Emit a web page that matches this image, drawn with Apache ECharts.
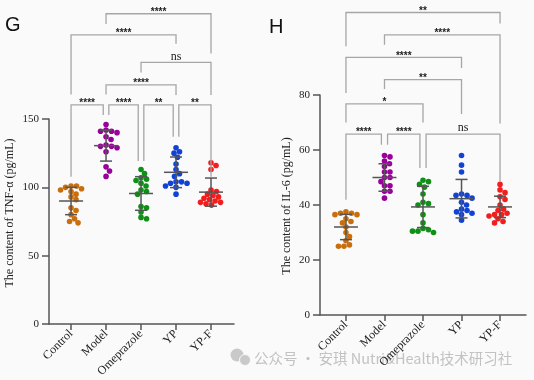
<!DOCTYPE html>
<html>
<head>
<meta charset="utf-8">
<script src="https://cdn.jsdelivr.net/npm/echarts@6/dist/echarts.min.js"></script>
<style>
html,body{margin:0;padding:0;background:#fafafa;}
#c{width:534px;height:380px;}
</style>
</head>
<body>
<div id="c"></div>
<script>
const categories = ['Control', 'Model', 'Omeprazole', 'YP', 'YP-F'];
const groupColors = ['#C96E0C', '#990099', '#0E8F16', '#1142D6', '#F41C1C'];

// Panel G: TNF-α (pg/mL)
const tnfControl = [101, 100, 101, 99, 98, 97, 95, 93, 91, 85, 83, 80, 77, 75, 74];
const tnfModel = [146, 141, 142, 141, 140, 137, 135, 130, 131, 129, 130, 126, 115, 112, 108];
const tnfOmeprazole = [113, 110, 107, 106, 105, 103, 101, 98, 97, 95, 86, 85, 82, 78, 77];
const tnfYP = [129, 126, 125, 122, 117, 113, 110, 108, 104, 104, 103, 103, 101, 100, 95];
const tnfYPF = [118, 116, 113, 98, 97, 95, 94, 93, 92, 91, 90, 89, 89, 88, 87];
const tnfMean = [90, 130.5, 95.5, 111, 96.5];
const tnfSD = [10, 11.3, 12.3, 11.2, 10.3];
const tnfTicks = [0, 50, 100, 150];

// Panel H: IL-6 (pg/mL)
const il6Control = [37.5, 37, 37, 36.5, 36.5, 35, 34, 33.5, 32, 30, 28.5, 27, 25.5, 25, 25];
const il6Model = [58, 57.5, 56, 55, 54, 52, 52, 50, 50, 48.5, 47, 47, 45, 45, 42.5];
const il6Omeprazole = [49, 48.5, 47.5, 46.5, 44, 41, 40.5, 40, 36.5, 33.5, 31.5, 31, 30.5, 30.5, 30];
const il6YP = [58, 54.5, 52, 44, 43.5, 43.5, 42.5, 41, 40, 38.5, 38, 37.5, 37, 36.5, 34.5];
const il6YPF = [47.5, 45.5, 44.5, 43, 42, 40, 38.5, 38, 37, 36.5, 36.5, 36, 35, 34, 33.5];
const il6Mean = [32, 50, 39.3, 42.3, 39.3];
const il6SD = [4.6, 5, 7.5, 7, 3.9];
const il6Ticks = [0, 20, 40, 60, 80];

// significance brackets: [from, to, barLevel, leftLegEnd, rightLegEnd]
const tnfBrackets = [
  [1, 4, 227, 219.6, 198],
  [0, 3, 211.6, 168, 205],
  [2, 4, 191.4, 184, 167.6],
  [1, 3, 175, 168, 167.6],
  [0, 0.92, 160.3, 107.8, 153],
  [1.08, 1.92, 160.3, 153, 119.3],
  [2.08, 2.92, 160.3, 119.3, 137],
  [3.08, 4, 160.3, 137, 107.8]
];
const tnfBracketLabels = ['****', '****', 'ns', '****', '****', '****', '**', '**'];
const il6Brackets = [
  [0, 4, 110, 97.7, 106],
  [1, 4, 101.9, 98.3, 69.6],
  [0, 3, 93.7, 80.7, 89.8],
  [1, 3, 85.6, 82.2, 73.1],
  [0, 2, 76.8, 70, 70],
  [0, 0.92, 65.8, 41.9, 61.9],
  [1.08, 1.92, 65.8, 61.9, 53.5],
  [2.08, 4, 65.8, 53.5, 48.6]
];
const il6BracketLabels = ['**', '****', '****', '**', '*', '****', '****', 'ns'];

// ---------- layout ----------
const G = {left: 49, top: 119, width: 185, height: 205, xmin: -0.63, xmax: 4.657, ymax: 150, interval: 50};
const H = {left: 320, top: 95, width: 206, height: 220, xmin: -0.674, xmax: 4.674, ymax: 80, interval: 20};
const DOT = 5.6;
const GAP = 5.3;

// deterministic beeswarm layout (pixel collision avoidance)
function swarm(values, group, P) {
  const pxX = P.width / (P.xmax - P.xmin);
  const pxY = P.height / P.ymax;
  const placed = [];
  const out = [];
  const sorted = values.slice().sort((a, b) => b - a);
  for (const v of sorted) {
    const py = v * pxY;
    let off = 0;
    for (let k = 0; k < 400; k++) {
      const cand = (k % 2 === 1 ? 1 : -1) * Math.ceil(k / 2) * 0.5;
      if (placed.every(p => Math.hypot(p[0] - cand, p[1] - py) >= GAP)) { off = cand; break; }
    }
    placed.push([off, py]);
    out.push([group + off / pxX, v]);
  }
  return out;
}

const serif = '"Liberation Serif", "Times New Roman", serif';

function axes(P, gi, ticks) {
  const x = {
    type: 'value', gridIndex: gi, min: P.xmin, max: P.xmax,
    axisLine: {show: true, onZero: false, lineStyle: {color: '#555', width: 1.5}},
    axisTick: {show: true, length: 6, lineStyle: {color: '#555', width: 1.5}, customValues: [0, 1, 2, 3, 4]},
    axisLabel: {
      customValues: [0, 1, 2, 3, 4], rotate: 45, margin: 8,
      formatter: v => categories[Math.round(v)],
      fontFamily: serif, fontSize: 12, color: '#222'
    },
    splitLine: {show: false}
  };
  const y = {
    type: 'value', gridIndex: gi, min: 0, max: P.ymax, interval: P.interval,
    axisLine: {show: true, onZero: false, lineStyle: {color: '#555', width: 1.5}},
    axisTick: {show: true, length: 7, lineStyle: {color: '#555', width: 1.5}},
    axisLabel: {margin: 10, fontFamily: serif, fontSize: 11, color: '#222',
      customValues: ticks},
    splitLine: {show: false}
  };
  return [x, y];
}

function scatterSeries(groups, P, gi) {
  return groups.map((vals, i) => ({
    type: 'scatter', xAxisIndex: gi, yAxisIndex: gi,
    data: swarm(vals, i, P),
    symbolSize: DOT, itemStyle: {color: groupColors[i], opacity: 1},
    z: 3, silent: true
  }));
}

function errorSeries(means, sds, gi) {
  return {
    type: 'custom', xAxisIndex: gi, yAxisIndex: gi, z: 5, silent: true, clip: false,
    data: means.map((m, i) => [i, m, sds[i]]),
    renderItem: (params, api) => {
      const x = api.value(0), m = api.value(1), s = api.value(2);
      const c = api.coord([x, m]);
      const t = api.coord([x, m + s]);
      const b = api.coord([x, m - s]);
      const st = {stroke: '#555', lineWidth: 1.5};
      return {type: 'group', children: [
        {type: 'line', shape: {x1: c[0] - 12, y1: c[1], x2: c[0] + 12, y2: c[1]}, style: st},
        {type: 'line', shape: {x1: t[0], y1: t[1], x2: b[0], y2: b[1]}, style: st},
        {type: 'line', shape: {x1: t[0] - 6, y1: t[1], x2: t[0] + 6, y2: t[1]}, style: st},
        {type: 'line', shape: {x1: b[0] - 6, y1: b[1], x2: b[0] + 6, y2: b[1]}, style: st}
      ]};
    }
  };
}

function bracketSeries(brackets, labels, gi) {
  return {
    type: 'custom', xAxisIndex: gi, yAxisIndex: gi, z: 4, silent: true, clip: false,
    data: brackets,
    renderItem: (params, api) => {
      const x1 = api.value(0), x2 = api.value(1), yt = api.value(2), yl = api.value(3), yr = api.value(4);
      const a = api.coord([x1, yl]), b = api.coord([x1, yt]), c = api.coord([x2, yt]), d = api.coord([x2, yr]);
      const lab = labels[params.dataIndex];
      const isNs = lab === 'ns';
      return {type: 'group', children: [
        {type: 'polyline', shape: {points: [a, b, c, d]}, style: {stroke: '#a6a6a6', lineWidth: 1.3, fill: null}},
        {type: 'text', x: (b[0] + c[0]) / 2, y: isNs ? b[1] - 6 : b[1] - 1.5,
          style: {text: lab, fill: '#222', align: 'center', verticalAlign: 'middle',
            font: isNs ? '12px ' + serif : 'bold 10px "Liberation Sans", Arial, sans-serif'}}
      ]};
    }
  };
}

const [gx, gy] = axes(G, 0, tnfTicks);
const [hx, hy] = axes(H, 1, il6Ticks);

const option = {
  backgroundColor: '#fafafa',
  animation: false,
  grid: [
    {left: G.left, top: G.top, width: G.width, height: G.height},
    {left: H.left, top: H.top, width: H.width, height: H.height}
  ],
  xAxis: [gx, hx],
  yAxis: [gy, hy],
  graphic: [
    {type: 'group', z: -10, zlevel: 0, children: [
      {type: 'circle', shape: {cx: 237, cy: 355, r: 6.5}, style: {fill: '#c9c9c9'}},
      {type: 'circle', shape: {cx: 245, cy: 360, r: 5.5}, style: {fill: '#c9c9c9', stroke: '#fafafa', lineWidth: 1}},
      {type: 'text', x: 254, y: 358, style: {text: '公众号 · 安琪 Nutri&Health技术研习社', fill: '#c2c2c2',
        font: '14.5px "Noto Sans CJK SC", sans-serif', align: 'left', verticalAlign: 'middle'}}
    ]},
    {type: 'text', x: 5, y: 25, style: {text: 'G', fill: '#111', font: '20px "Liberation Sans", Arial, sans-serif', verticalAlign: 'middle'}},
    {type: 'text', x: 269, y: 27, style: {text: 'H', fill: '#111', font: '20px "Liberation Sans", Arial, sans-serif', verticalAlign: 'middle'}},
    {type: 'text', x: 10, y: 213, rotation: Math.PI / 2,
      style: {text: 'The content of TNF-α (pg/mL)', fill: '#222', font: '12px ' + serif, align: 'center', verticalAlign: 'middle'}},
    {type: 'text', x: 287, y: 206, rotation: Math.PI / 2,
      style: {text: 'The content of IL-6 (pg/mL)', fill: '#222', font: '12px ' + serif, align: 'center', verticalAlign: 'middle'}}
  ],
  series: [
    ...scatterSeries([tnfControl, tnfModel, tnfOmeprazole, tnfYP, tnfYPF], G, 0),
    ...scatterSeries([il6Control, il6Model, il6Omeprazole, il6YP, il6YPF], H, 1),
    errorSeries(tnfMean, tnfSD, 0),
    errorSeries(il6Mean, il6SD, 1),
    bracketSeries(tnfBrackets, tnfBracketLabels, 0),
    bracketSeries(il6Brackets, il6BracketLabels, 1)
  ]
};

const chart = echarts.init(document.getElementById('c'), null, {renderer: 'canvas'});
chart.setOption(option);
</script>
</body>
</html>
